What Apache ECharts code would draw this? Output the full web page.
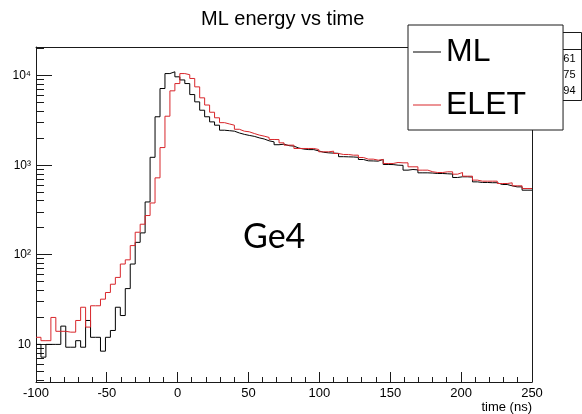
<!DOCTYPE html>
<html>
<head>
<meta charset="utf-8">
<title>ML energy vs time</title>
<script src="https://cdn.jsdelivr.net/npm/echarts@6/dist/echarts.min.js"></script>
<style>
  html, body { margin: 0; padding: 0; background: #fff; }
  #chart { width: 582px; height: 414px; }
</style>
</head>
<body>
<div id="chart"></div>
<script>
// 100 bins, -100 .. 250 ns
var binStart = -100;
var binWidth = 3.5;

// ML (black) counts per bin
var mlCounts = [
  10, 7.2, 10, 10, 10, 16, 9.3, 9.3, 11, 9.3,
  18.5, 12, 12, 8.4, 12, 14.3, 26, 21, 42, 79,
  138, 176, 390, 1230, 3490, 7220, 10600, 11100, 9750, 9000,
  8200, 6180, 5120, 4130, 3490, 3060, 2810, 2470, 2440, 2410,
  2300, 2220, 2160, 2110, 2030, 1970, 1880, 1830, 1700, 1725,
  1660, 1640, 1560, 1520, 1500, 1500, 1450, 1400, 1380, 1370,
  1360, 1250, 1245, 1240, 1230, 1163, 1124, 1120, 1115, 1165,
  1023, 1020, 1005, 1000, 884, 899, 890, 825, 825, 820,
  811, 811, 805, 800, 732, 745, 745, 740, 654, 644,
  644, 640, 640, 611, 611, 591, 575, 575, 528, 528
];

// ELET (red) counts per bin
var eletCounts = [
  12, 11, 11, 20, 14, 14, 13.7, 13.7, 18.5, 26,
  15.6, 27, 27, 32, 38, 47, 56, 79, 88, 127,
  179, 220, 275, 380, 725, 1580, 3540, 6800, 8200, 10600,
  10300, 9350, 7530, 5680, 4720, 3920, 3400, 3000, 2900, 2810,
  2530, 2410, 2370, 2270, 2180, 2120, 2050, 1946, 1940, 1785,
  1682, 1682, 1544, 1544, 1544, 1544, 1504, 1417, 1417, 1440,
  1357, 1323, 1323, 1300, 1300, 1224, 1173, 1173, 1143, 1163,
  1049, 1049, 1077, 1067, 1067, 963, 963, 884, 884, 847,
  832, 832, 847, 847, 797, 832, 757, 757, 684, 666,
  666, 666, 666, 627, 627, 638, 591, 591, 551, 551
];

var xMajorTicks = [-100, -50, 0, 50, 100, 150, 200, 250];
var xMinorTicks = [-90, -80, -70, -60, -40, -30, -20, -10, 10, 20, 30, 40,
  60, 70, 80, 90, 110, 120, 130, 140, 160, 170, 180, 190, 210, 220, 230, 240];
var yMajorTicks = [10, 100, 1000, 10000];
var yMajorLabels = ['10', '10²', '10³', '10⁴'];
var yMinorTicks = [4, 5, 6, 7, 8, 9,
  20, 30, 40, 50, 60, 70, 80, 90,
  200, 300, 400, 500, 600, 700, 800, 900,
  2000, 3000, 4000, 5000, 6000, 7000, 8000, 9000, 20000];

// visible tail of the stats box rows
var statsRows = ['61', '75', '94'];

var FONT = 'Liberation Sans, Arial, Helvetica, sans-serif';
var INK = '#1a1a1a';
var X_MIN = -100, X_MAX = 250;
var Y_MIN = 3.8, Y_MAX = 21000;

function toSteps(counts) {
  var pts = [];
  for (var i = 0; i < counts.length; i++) {
    pts.push([binStart + i * binWidth, counts[i]]);
  }
  pts.push([binStart + counts.length * binWidth, counts[counts.length - 1]]);
  return pts;
}

function crisp(p) { return Math.round(p - 0.5) + 0.5; }

// ROOT-style inward ticks drawn as a custom series on the same axes
// tick rows: [value, length, isY]
function tickRows(values, len, isY) {
  return values.map(function (v) { return isY ? [X_MIN, v, len, 1] : [v, Y_MIN, len, 0]; });
}
var tickData = [].concat(
  tickRows(xMajorTicks, 10, false), tickRows(xMinorTicks, 5, false),
  tickRows(yMajorTicks, 16, true), tickRows(yMinorTicks, 8, true)
);
function renderTick(params, api) {
  var p = api.coord([api.value(0), api.value(1)]);
  var len = api.value(2);
  var shape = api.value(3)
    ? {x1: p[0], y1: crisp(p[1]), x2: p[0] + len, y2: crisp(p[1])}
    : {x1: crisp(p[0]), y1: p[1], x2: crisp(p[0]), y2: p[1] - len};
  return {type: 'line', shape: shape, style: {stroke: INK, lineWidth: 1}};
}

// axis drawing only its line (one edge of the frame)
function frameAxis(type, pos) {
  return {
    type: type, position: pos,
    min: type === 'log' ? Y_MIN : X_MIN, max: type === 'log' ? Y_MAX : X_MAX,
    axisLine: {show: true, onZero: false, lineStyle: {color: INK, width: 1}},
    axisTick: {show: false}, axisLabel: {show: false}, splitLine: {show: false}
  };
}

var chart = echarts.init(document.getElementById('chart'));

var graphics = [
  {type: 'rect', z: 5, shape: {x: 470.5, y: 32.5, width: 111, height: 68},
   style: {fill: '#fff', stroke: INK, lineWidth: 1}},
  {type: 'line', z: 5, shape: {x1: 470, y1: 49.5, x2: 581, y2: 49.5},
   style: {stroke: INK, lineWidth: 1}},
  {type: 'text', z: 5, x: 243, y: 237,
   style: {text: 'Ge4', fontFamily: 'Lato', fontSize: 34, fill: '#000', verticalAlign: 'middle'}}
];
var statsY = [59, 74.5, 91];
for (var s = 0; s < statsRows.length; s++) {
  graphics.push({type: 'text', z: 5, x: 575.5, y: statsY[s],
    style: {text: statsRows[s], fontFamily: FONT, fontSize: 11, fill: '#000',
            align: 'right', verticalAlign: 'middle'}});
}

var option = {
  animation: false,
  backgroundColor: '#fff',
  title: {
    text: 'ML energy vs time',
    left: 196, top: 4,
    textStyle: {fontFamily: FONT, fontSize: 20, fontWeight: 'normal', color: '#000'}
  },
  legend: {
    data: ['ML', 'ELET'],
    orient: 'vertical',
    left: 408, top: 25,
    z: 20,
    icon: 'rect',
    itemWidth: 28, itemHeight: 1,
    itemGap: 17,
    padding: [9, 37, 7, 5],
    backgroundColor: '#fff',
    borderColor: INK, borderWidth: 1,
    textStyle: {fontFamily: FONT, fontSize: 32, lineHeight: 36, color: '#000'}
  },
  grid: {
    left: 36, right: 50, top: 47, bottom: 32, show: false
  },
  xAxis: [{
    type: 'value', min: X_MIN, max: X_MAX, position: 'bottom',
    name: 'time (ns)', nameLocation: 'end', nameGap: 0,
    nameTextStyle: {fontFamily: FONT, fontSize: 13, color: '#000', align: 'right',
                    verticalAlign: 'top', padding: [19, 0, 0, 0]},
    axisLine: {show: true, onZero: false, lineStyle: {color: INK, width: 1}},
    axisTick: {show: false},
    axisLabel: {customValues: xMajorTicks, fontFamily: FONT, fontSize: 13, color: '#000', margin: 5},
    splitLine: {show: false}
  }, frameAxis('value', 'top')],
  yAxis: [{
    type: 'log', min: Y_MIN, max: Y_MAX, position: 'left',
    axisLine: {show: true, onZero: false, lineStyle: {color: INK, width: 1}},
    axisTick: {show: false},
    axisLabel: {
      customValues: yMajorTicks, fontFamily: FONT, fontSize: 12, color: '#000', margin: 5,
      formatter: function (v) {
        var i = yMajorTicks.indexOf(Math.round(v));
        return i >= 0 ? yMajorLabels[i] : '';
      }
    },
    splitLine: {show: false}
  }, frameAxis('log', 'right')],
  graphic: graphics,
  series: [{
    name: 'ticks', type: 'custom', xAxisIndex: 0, yAxisIndex: 0,
    clip: false, silent: true, z: 3,
    renderItem: renderTick,
    data: tickData
  }, {
    name: 'ML', type: 'line', step: 'end', showSymbol: false, xAxisIndex: 0, yAxisIndex: 0,
    data: toSteps(mlCounts),
    itemStyle: {color: '#000'},
    lineStyle: {color: '#000', width: 1}
  }, {
    name: 'ELET', type: 'line', step: 'end', showSymbol: false, xAxisIndex: 0, yAxisIndex: 0,
    data: toSteps(eletCounts),
    itemStyle: {color: '#d8262b'},
    lineStyle: {color: '#d8262b', width: 1}
  }]
};

chart.setOption(option);
</script>
</body>
</html>
